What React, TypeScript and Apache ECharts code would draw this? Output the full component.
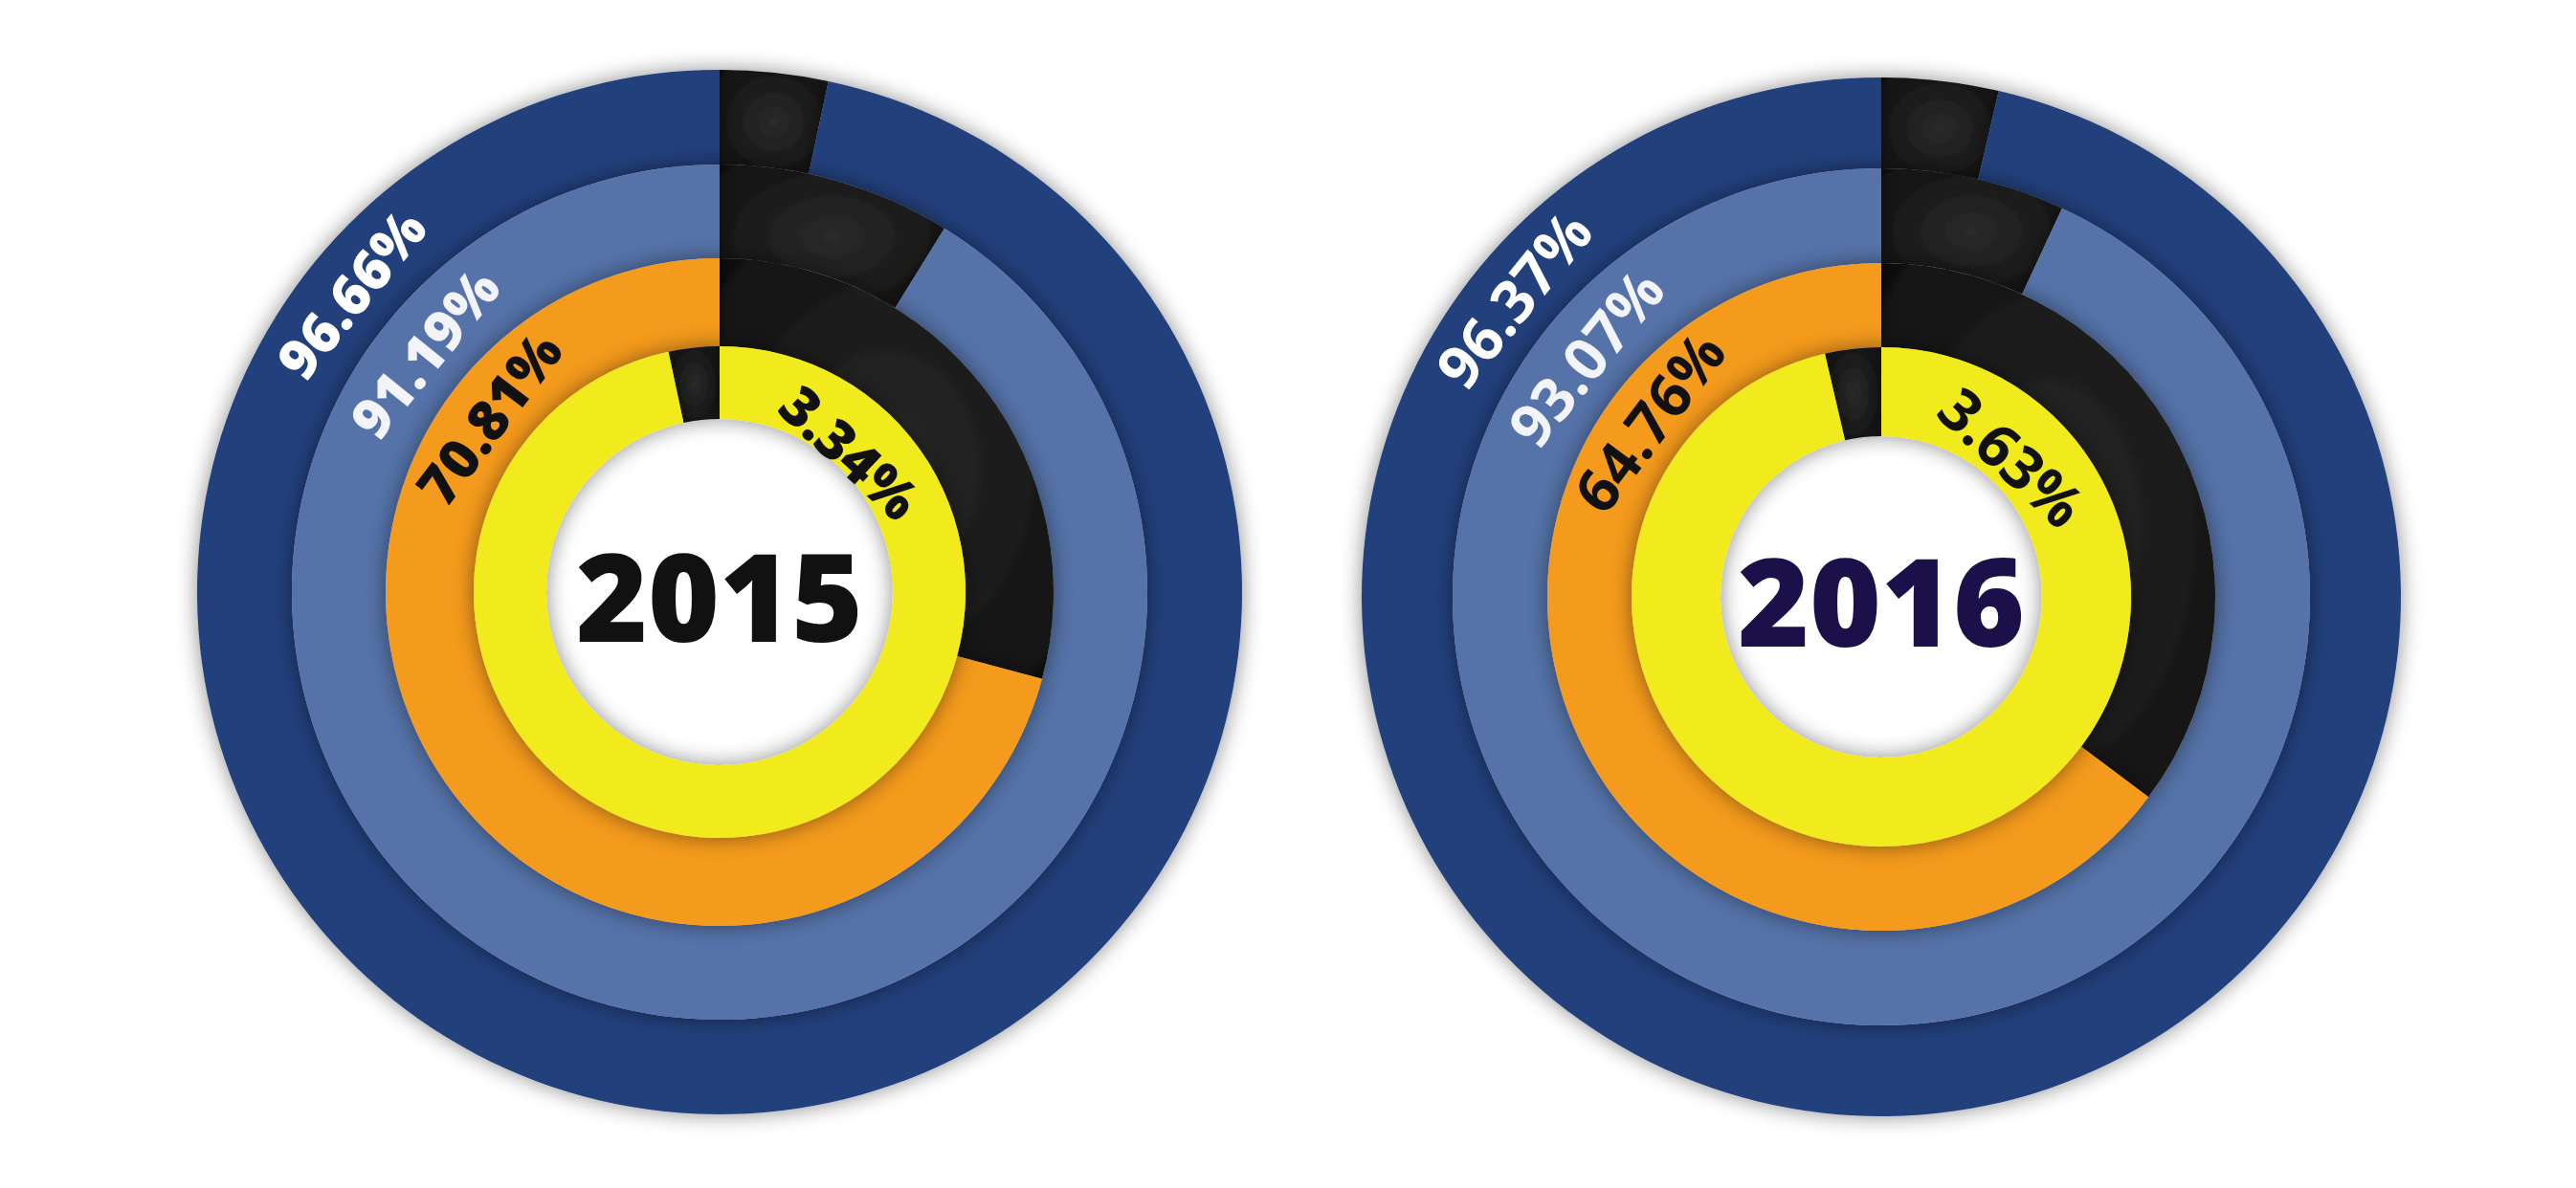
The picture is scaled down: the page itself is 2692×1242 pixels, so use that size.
import React, { useEffect, useRef } from "react";
import * as echarts from "echarts";

// ---- data ----
const years = ["2015", "2016"];
const outerRing = [96.66, 96.37];
const middleRing = [91.19, 93.07];
const orangeRing = [70.81, 64.76];
const innerRing = [3.34, 3.63];

// ---- layout / style ----
const centers = [
  [752, 619],
  [1966, 624],
];
const radii = [
  [[447, 546], [349, 447], [257, 349], [181, 257]],
  [[448, 543], [349, 448], [261, 349], [168, 261]],
];
const ringColors = ["#213f7c", "#5473a9", "#f49a1d", "#f1ea1c"];
const labelColors = ["#ffffff", "#f2f4fa", "#111111", "#111111"];
const yearColors = ["#111111", "#1b1049"];
const labelAngles = [-51, -51, -53, 43]; // degrees clockwise from 12 o'clock
const innerLabelRadius = [201, 201];
const labelFont = [58, 62];
const labelWeight = ["800", "bold"];

export default function App() {
  const ref = useRef<HTMLDivElement>(null);
  useEffect(() => {
    if (!ref.current) return;
    const chart = echarts.init(ref.current, undefined, { renderer: "svg" });
    const black = () =>
      new echarts.graphic.RadialGradient(0.5, 0.5, 0.8, [
        { offset: 0, color: "#2a2a2a" },
        { offset: 1, color: "#0c0c0c" },
      ]);
    const series: any[] = [];
    const graphics: any[] = [];
    const rings = [outerRing, middleRing, orangeRing, innerRing];
    years.forEach((year, i) => {
      const [cx, cy] = centers[i];
      rings.forEach((ring, k) => {
        const v = ring[i];
        const isInner = k === 3;
        const data = isInner
          ? [
              { value: v, name: "rest", itemStyle: { color: black() } },
              { value: +(100 - v).toFixed(2), name: "main", itemStyle: { color: ringColors[k] } },
            ]
          : [
              { value: +(100 - v).toFixed(2), name: "rest", itemStyle: { color: black() } },
              { value: v, name: "main", itemStyle: { color: ringColors[k] } },
            ];
        series.push({
          type: "pie",
          center: [cx, cy],
          radius: radii[i][k],
          startAngle: 90,
          clockwise: !isInner,
          silent: true,
          label: { show: false },
          labelLine: { show: false },
          emphasis: { disabled: true },
          itemStyle: {
            shadowBlur: 22,
            shadowColor: "rgba(0,0,0,0.45)",
          },
          data,
        });
        const [r0, r1] = radii[i][k];
        const r = isInner ? innerLabelRadius[i] : (r0 + r1) / 2;
        const th = (labelAngles[k] * Math.PI) / 180;
        graphics.push({
          type: "text",
          z: 100,
          x: cx + r * Math.sin(th),
          y: cy - r * Math.cos(th),
          rotation: -th,
          style: {
            text: v.toFixed(2) + "%",
            fill: labelColors[k],
            font: `${labelWeight[i]} ${labelFont[i]}px "Open Sans", sans-serif`,
            align: "center",
            verticalAlign: "middle",
          },
        });
      });
      graphics.push({
        type: "text",
        z: 100,
        x: cx,
        y: cy + 2,
        style: {
          text: year,
          fill: yearColors[i],
          font: `800 128px "Open Sans", sans-serif`,
          align: "center",
          verticalAlign: "middle",
        },
      });
    });
    chart.setOption({
      animation: false,
      backgroundColor: "#ffffff",
      series,
      graphic: graphics,
    });
    return () => chart.dispose();
  }, []);
  return (
    <div
      ref={ref}
      style={{ position: "fixed", left: 0, top: 0, width: 2692, height: 1242 }}
    />
  );
}
